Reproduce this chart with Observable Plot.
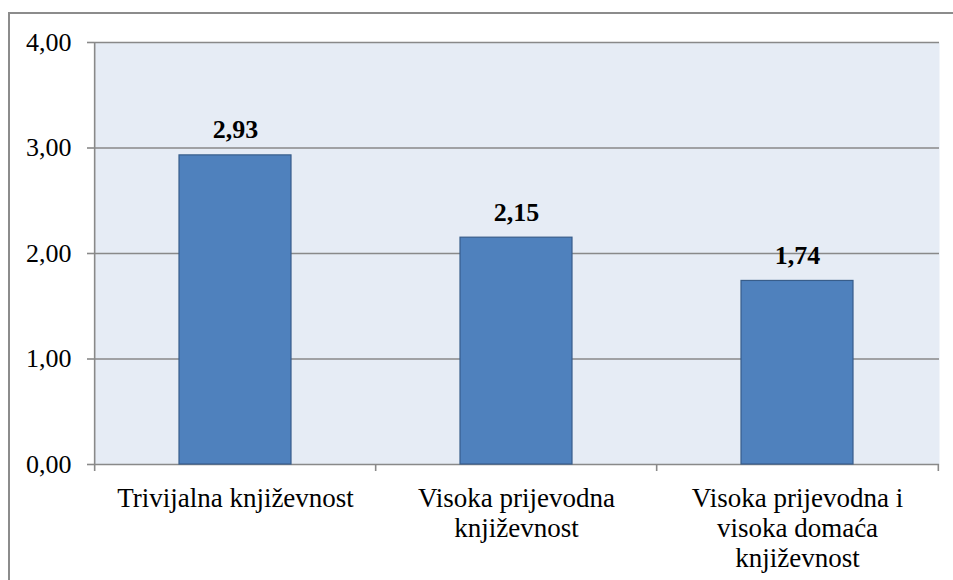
<!DOCTYPE html>
<html>
<head>
<meta charset="utf-8">
<script src="https://cdn.jsdelivr.net/npm/d3@7"></script>
<script src="https://cdn.jsdelivr.net/npm/@observablehq/plot@0.6"></script>
<style>
  html, body { margin: 0; padding: 0; background: #fff; }
  #wrap { position: relative; width: 953px; height: 580px; overflow: hidden; }
  #border { position: absolute; left: 8px; top: 12px; width: 960px; height: 600px;
            border-top: 2px solid #8c8c8c; border-left: 2px solid #8c8c8c; box-sizing: border-box; }
  #chart { position: absolute; left: 0; top: 0; }
  #chart text { font-family: "Liberation Serif", "Times New Roman", serif; }
</style>
</head>
<body>
<div id="wrap"><div id="border"></div><div id="chart"></div></div>
<script>
const categories = ["Trivijalna književnost", "Visoka prijevodna\nknjiževnost", "Visoka prijevodna i\nvisoka domaća\nknjiževnost"];
const values = [2.93, 2.15, 1.74];
const yTicks = [0, 1, 2, 3, 4];

const data = categories.map((c, i) => ({category: c, value: values[i]}));
const fmt = v => v.toFixed(2).replace(".", ",");

const W = 953, H = 580;
const mL = 94, mR = 14, mT = 42, mB = 116;
const paddingInner = 0.6, paddingOuter = 0.3;
const step = (W - mL - mR) / (categories.length - paddingInner + 2 * paddingOuter);
const plotH = H - mT - mB;
const font = "Liberation Serif, Times New Roman, serif";
const fs = 26;
const grey = "#898989";

const chart = Plot.plot({
  width: W, height: H,
  marginLeft: mL, marginRight: mR, marginTop: mT, marginBottom: mB,
  style: {fontFamily: font, fontSize: fs + "px", color: "#000", background: "transparent"},
  x: {domain: categories, paddingInner, paddingOuter, label: null},
  y: {domain: [0, 4], label: null},
  marks: [
    Plot.frame({fill: "#e6ecf5", stroke: "none"}),
    Plot.ruleY(yTicks, {stroke: grey, strokeWidth: 1.6}),
    Plot.ruleX(categories.slice(0, 1), {x: d => d, dx: -step / 2, y1: 0, y2: 4, stroke: grey, strokeWidth: 1.6}),
    Plot.ruleX(categories, {x: d => d, dx: -step / 2, insetTop: plotH, insetBottom: -7, stroke: grey, strokeWidth: 1.6}),
    Plot.ruleX(categories.slice(-1), {x: d => d, dx: step / 2, insetTop: plotH, insetBottom: -7, stroke: grey, strokeWidth: 1.6}),
    Plot.barY(data, {x: "category", y: "value", fill: "#4f81bd", stroke: "#385d8a", strokeWidth: 1.2}),
    Plot.text(data, {x: "category", y: "value", text: d => fmt(d.value), lineAnchor: "bottom", dy: -17,
      fontWeight: "bold", fontSize: fs, fill: "#000"}),
    Plot.axisY(yTicks, {tickFormat: fmt, tickSize: 7, tickPadding: 16, stroke: grey, strokeWidth: 1.6,
      fontSize: fs, fill: "#000"}),
    Plot.axisX({tickSize: 0, tickPadding: 21, lineHeight: 1.11, fontSize: 27, fill: "#000"})
  ]
});
document.getElementById("chart").appendChild(chart);
</script>
</body>
</html>
